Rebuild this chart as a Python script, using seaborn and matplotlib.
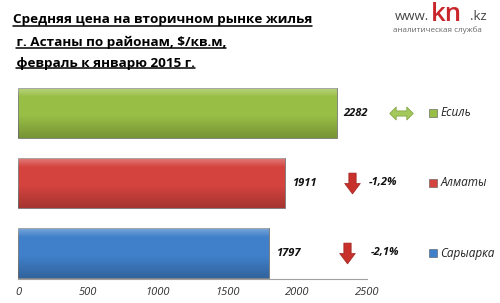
import matplotlib
matplotlib.use("Agg")
import matplotlib.pyplot as plt
import seaborn as sns
import pandas as pd
import numpy as np
from matplotlib.path import Path
from matplotlib.lines import Line2D

districts = ["Есиль", "Алматы", "Сарыарка"]
prices = [2282, 1911, 1797]
changes = ["", "-1,2%", "-2,1%"]
directions = ["flat", "down", "down"]
colors = ["#98BE45", "#D4433E", "#4080CA"]
xticks = [0, 500, 1000, 1500, 2000, 2500]
title_lines = ["Средняя цена на вторичном рынке жилья",
               " г. Астаны по районам, $/кв.м,",
               " февраль к январю 2015 г."]

sns.set_theme(style="white")
plt.rcParams['font.family'] = ['Open Sans', 'DejaVu Sans']

df = pd.DataFrame({"district": districts, "price": prices})

fig = plt.figure(figsize=(5.0, 3.03), dpi=100)
ax = fig.add_axes([18/500, 1-279/303, (367-18)/500, (279-75)/303])
sns.barplot(data=df, x="price", y="district", hue="district", palette=colors,
            orient="h", width=50/70, legend=False, ax=ax, saturation=1,
            edgecolor="#777777", linewidth=0.6)

# bevel-like shading on each bar
n = 64
t = np.linspace(0, 1, n)
grad = np.zeros((n, 1, 4))
light = np.clip(1 - t / 0.18, 0, 1) * 0.30
dark = np.clip((t - 0.55) / 0.45, 0, 1) * 0.22
grad[:, 0, :3] = np.where(light[:, None] > 0, 1.0, 0.0)
grad[:, 0, 3] = np.maximum(light, dark)
for patch in ax.patches:
    x, y = patch.get_x(), patch.get_y()
    w, h = patch.get_width(), patch.get_height()
    im = ax.imshow(grad, extent=[x, x + w, y + h, y], aspect="auto",
                   origin="upper", zorder=patch.get_zorder() + 0.1,
                   interpolation="bilinear")
    im.set_clip_path(patch)

ax.set_xlim(0, 2500)
ax.set_ylim(2 + 26/70, 2 + 26/70 - 204/70)
ax.set_xticks(xticks)
ax.set_xticklabels([str(t) for t in xticks], fontstyle="italic", fontsize=8, color="#333333")
ax.set_yticks([])
ax.set_xlabel("")
ax.set_ylabel("")
for s in ["top", "right", "left"]:
    ax.spines[s].set_visible(False)
ax.spines["bottom"].set_color("#a0a0a0")
ax.spines["bottom"].set_linewidth(0.8)
ax.tick_params(axis="x", direction="out", length=3, width=0.8, color="#a0a0a0", pad=3)

# value labels
for i, p in enumerate(prices):
    ax.text(p + 50, i, str(p), ha="left", va="center", fontsize=8,
            fontweight="bold", fontstyle="italic", color="#111111")

# arrow markers
down = Path([(-0.35, 1), (0.35, 1), (0.35, 0), (0.75, 0), (0, -1), (-0.75, 0), (-0.35, 0), (-0.35, 1)],
            [Path.MOVETO] + [Path.LINETO]*6 + [Path.CLOSEPOLY])
dbl = Path([(-1, 0), (-0.45, 0.55), (-0.45, 0.22), (0.45, 0.22), (0.45, 0.55), (1, 0),
            (0.45, -0.55), (0.45, -0.22), (-0.45, -0.22), (-0.45, -0.55), (-1, 0)],
           [Path.MOVETO] + [Path.LINETO]*9 + [Path.CLOSEPOLY])
arrow_x = [2747, 2393, 2357]
for i, d in enumerate(directions):
    if d == "flat":
        ax.plot([arrow_x[i]], [i], marker=dbl, markersize=17, color="#A3C95C",
                markeredgecolor="#7a9e3a", markeredgewidth=0.5, clip_on=False)
    else:
        ax.plot([arrow_x[i]], [i], marker=down, markersize=15, color="#C8302C",
                markeredgecolor="#9e2420", markeredgewidth=0.5, clip_on=False)
pct_x = [0, 2510, 2530]
for i, c in enumerate(changes):
    if c:
        ax.text(pct_x[i], i, c, ha="left", va="center", fontsize=8,
                fontweight="bold", fontstyle="italic", color="#111111")

# legend-like labels
for i, name in enumerate(districts):
    ax.plot([2975], [i], marker="s", markersize=5.5, color=colors[i],
            markeredgecolor="#555555", markeredgewidth=0.4, clip_on=False)
    ax.text(3025, i, name, ha="left", va="center", fontsize=8.5,
            fontstyle="italic", color="#222222")

# title with underline
title_y = [1-20/303, 1-42/303, 1-63/303]
fig.canvas.draw()
renderer = fig.canvas.get_renderer()
for line, y in zip(title_lines, title_y):
    tx = fig.text(13/500, y, line, ha="left", va="center", fontsize=9.7,
                  fontweight="bold", color="black")
    bb = tx.get_window_extent(renderer=renderer).transformed(fig.transFigure.inverted())
    x0 = bb.x0
    if line.startswith(" "):
        x0 += 3/500
    fig.add_artist(Line2D([x0, bb.x1], [bb.y0 + 1/303, bb.y0 + 1/303],
                          transform=fig.transFigure, color="black", linewidth=1.1))

# logo
fig.text(395/500, 1-20/303, "www.", ha="left", va="baseline", fontsize=9.5, color="#444444")
fig.text(431/500, 1-21/303, "kn", ha="left", va="baseline", fontsize=18.5,
         fontweight="semibold", color="#C8262A")
fig.text(470/500, 1-20/303, ".kz", ha="left", va="baseline", fontsize=9.5, color="#444444")
fig.text(393/500, 1-30/303, "аналитическая служба", ha="left", va="center",
         fontsize=5.8, color="#666666")

fig.savefig("out.png", dpi=100)
